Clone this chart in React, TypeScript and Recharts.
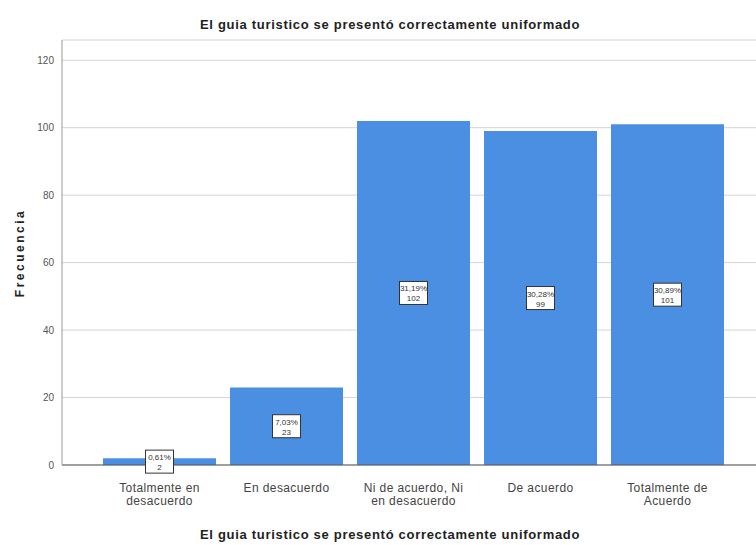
import { BarChart, Bar, XAxis, YAxis, CartesianGrid, LabelList } from "recharts";

const categories = [
    "Totalmente en\ndesacuerdo",
    "En desacuerdo",
    "Ni de acuerdo, Ni\nen desacuerdo",
    "De acuerdo",
    "Totalmente de\nAcuerdo",
];
const counts = [2, 23, 102, 99, 101];
const percents = ["0,61%", "7,03%", "31,19%", "30,28%", "30,89%"];
const yTicks = [0, 20, 40, 60, 80, 100, 120];

const title = "El guia turistico se presentó correctamente uniformado";

const data = categories.map((c, i) => ({ cat: c, n: counts[i], pct: percents[i] }));

const font = "Arial, 'Liberation Sans', sans-serif";

function CatTick(props: any) {
    const { x, y, payload } = props;
    const lines = String(payload.value).split("\n");
    return (
        <g transform={`translate(${x},${y})`}>
            {lines.map((l, i) => (
                <text key={i} x={0} y={19 + i * 13} textAnchor="middle" fontSize={12} letterSpacing={0.4}
                    fill="#444" fontFamily={font}>
                    {l}
                </text>
            ))}
        </g>
    );
}

function BoxLabel(props: any) {
    const { x, y, width, height, index } = props;
    const cx = x + width / 2;
    const cy = y + height / 2;
    const w = 28, h = 23;
    return (
        <g>
            <rect x={cx - w / 2} y={cy - h / 2} width={w} height={h} fill="#fff" stroke="#333" strokeWidth={1} />
            <text x={cx} y={cy - 1.5} textAnchor="middle" fontSize={8} fill="#333" fontFamily={font}>{percents[index]}</text>
            <text x={cx} y={cy + 8.5} textAnchor="middle" fontSize={8} fill="#333" fontFamily={font}>{counts[index]}</text>
        </g>
    );
}

export default function App() {
    return (
        <div style={{ position: "absolute", left: 0, top: 0, width: 756, height: 545, background: "#fff", fontFamily: font }}>
            <div style={{ position: "absolute", left: 0, width: 780, top: 17, textAlign: "center", fontSize: 13, fontWeight: 600, letterSpacing: 0.7, color: "#222" }}>
                {title}
            </div>
            <div style={{ position: "absolute", left: 0, width: 780, top: 527, textAlign: "center", fontSize: 13, fontWeight: 700, letterSpacing: 0.7, color: "#222" }}>
                {title}
            </div>
            <div style={{ position: "absolute", left: 20, top: 253, transform: "translate(-50%,-50%) rotate(-90deg)", fontSize: 12, fontWeight: 700, letterSpacing: 2.5, color: "#222", whiteSpace: "nowrap" }}>
                Frecuencia
            </div>
            <BarChart width={756} height={545} data={data} margin={{ top: 40, right: 0, bottom: 0, left: 0 }} barCategoryGap={7}>
                <CartesianGrid vertical={false} stroke="#d4d4d4" />
                <XAxis dataKey="cat" tick={<CatTick />} tickLine={false} interval={0} height={80}
                    padding={{ left: 34, right: 25 }} stroke="#555" />
                <YAxis width={62} domain={[0, 126]} ticks={yTicks} tickLine={false} stroke="#999"
                    tick={{ fontSize: 10, fill: "#555", fontFamily: font }} />
                <Bar dataKey="n" fill="#4a8fe2" isAnimationActive={false}>
                    <LabelList dataKey="n" content={<BoxLabel />} />
                </Bar>
            </BarChart>
        </div>
    );
}
